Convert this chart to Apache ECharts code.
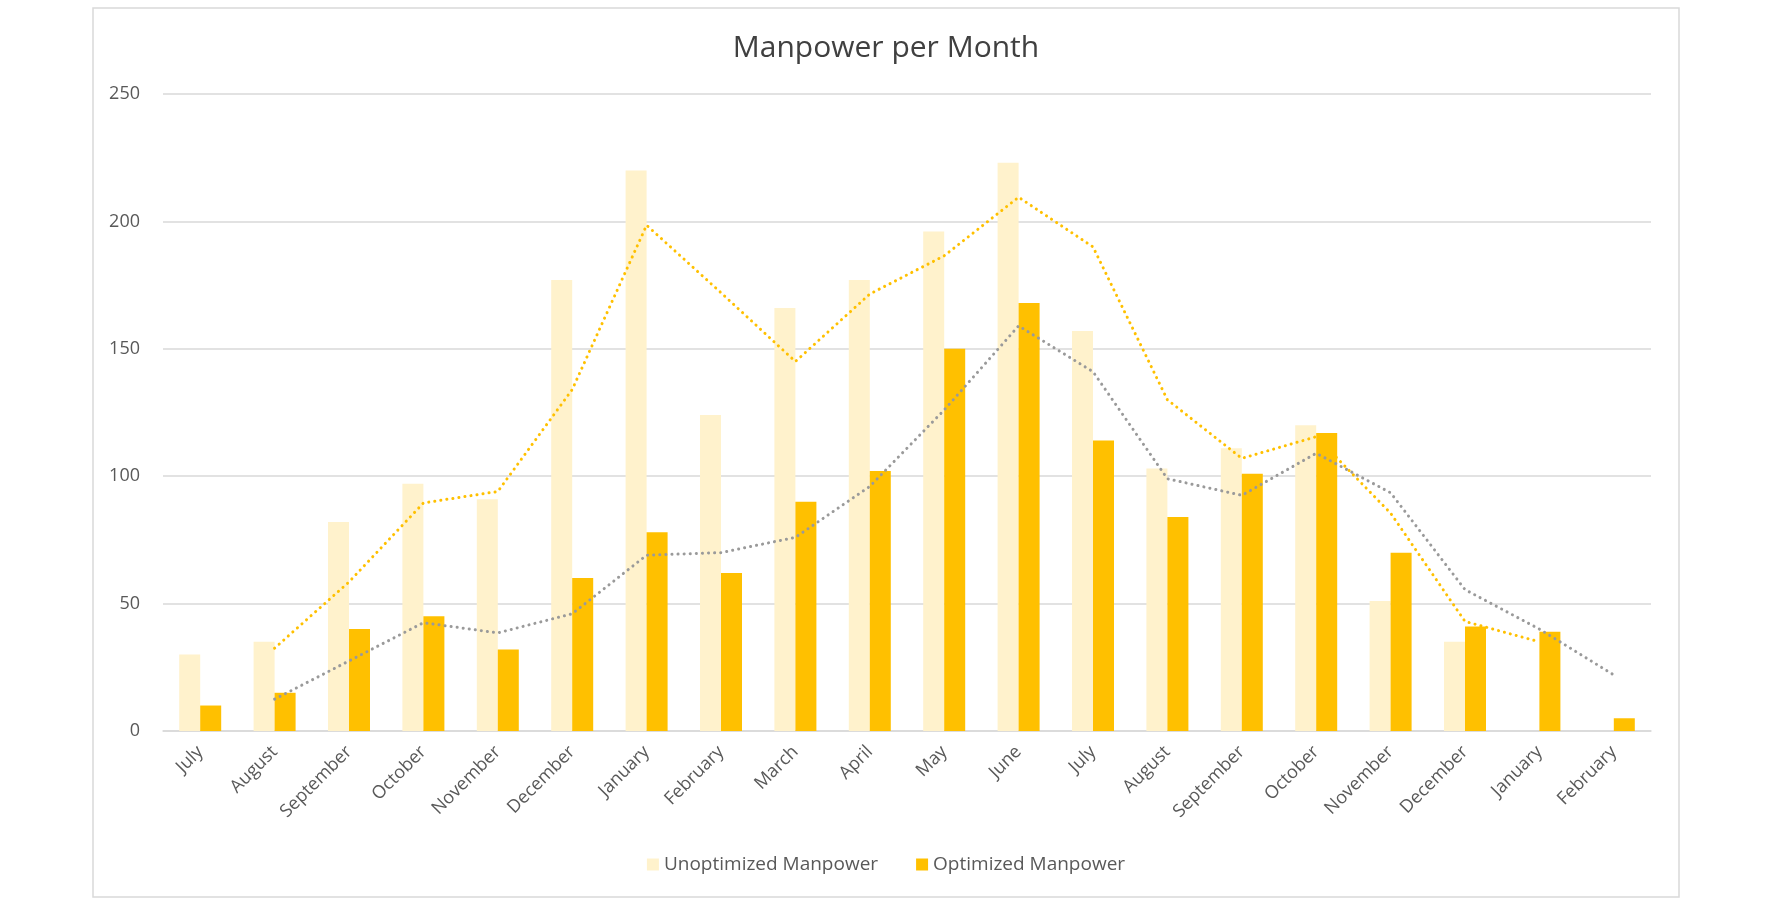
<!DOCTYPE html>
<html>
<head>
<meta charset="utf-8">
<script src="https://cdn.jsdelivr.net/npm/echarts@6/dist/echarts.min.js"></script>
<style>
html,body{margin:0;padding:0;background:#fff;}
#chart{width:1772px;height:900px;}
</style>
</head>
<body>
<div id="chart"></div>
<script>
const categories = ['July','August','September','October','November','December','January','February','March','April','May','June','July','August','September','October','November','December','January','February'];
const unoptimized = [30,35,82,97,91,177,220,124,166,177,196,223,157,103,111,120,51,35,null,null];
const optimized = [10,15,40,45,32,60,78,62,90,102,150,168,114,84,101,117,70,41,39,5];
// trendlines (2-period moving average)
const unoptimizedTrend = [null,32.5,58.5,89.5,94,134,198.5,172,145,171.5,186.5,209.5,190,130,107,115.5,85.5,43,35,null];
const optimizedTrend = [null,12.5,27.5,42.5,38.5,46,69,70,76,96,126,159,141,99,92.5,109,93.5,55.5,40,22];
const yTicks = [0,50,100,150,200,250];

const font = 'Open Sans';
const chart = echarts.init(document.getElementById('chart'));
chart.setOption({
  animation: false,
  backgroundColor: '#ffffff',
  textStyle: {fontFamily: font},
  graphic: [{
    type: 'rect', z: -1, silent: true,
    shape: {x: 93, y: 8, width: 1586, height: 889},
    style: {fill: '#ffffff', stroke: '#D9D9D9', lineWidth: 1.5}
  }],
  title: {
    text: 'Manpower per Month',
    left: 'center', top: 28,
    textStyle: {fontFamily: font, fontSize: 30, fontWeight: 'normal', color: '#404040'}
  },
  legend: {
    data: ['Unoptimized Manpower', 'Optimized Manpower'],
    top: 850, left: 'center',
    itemWidth: 12, itemHeight: 12, itemGap: 38,
    icon: 'rect',
    textStyle: {fontFamily: font, fontSize: 19, color: '#595959'}
  },
  grid: {left: 163, right: 121, top: 94, bottom: 169, containLabel: false},
  xAxis: {
    type: 'category',
    data: categories,
    axisLine: {show: true, lineStyle: {color: '#D9D9D9', width: 1.5}},
    axisTick: {show: false},
    axisLabel: {rotate: 45, margin: 18, interval: 0, fontFamily: font, fontSize: 18, color: '#595959'}
  },
  yAxis: {
    type: 'value',
    min: yTicks[0], max: yTicks[yTicks.length - 1], interval: 50,
    axisLine: {show: false},
    axisTick: {show: false},
    splitLine: {lineStyle: {color: '#D9D9D9', width: 1.5}},
    axisLabel: {margin: 23, fontFamily: font, fontSize: 18, color: '#595959'}
  },
  series: [
    {
      name: 'Unoptimized Manpower', type: 'bar', data: unoptimized,
      barWidth: 21, barGap: '0%',
      itemStyle: {color: '#FFF2CC'}
    },
    {
      name: 'Optimized Manpower', type: 'bar', data: optimized,
      barWidth: 21, barGap: '0%',
      itemStyle: {color: '#FFC000'}
    },
    {
      name: 'Unoptimized trend', type: 'line', data: unoptimizedTrend,
      showSymbol: false, symbol: 'none', connectNulls: false, z: 5,
      lineStyle: {color: '#FFC000', width: 3, type: [0.1, 6], cap: 'round'}
    },
    {
      name: 'Optimized trend', type: 'line', data: optimizedTrend,
      showSymbol: false, symbol: 'none', connectNulls: false, z: 5,
      lineStyle: {color: '#9A9A9A', width: 3, type: [0.1, 6], cap: 'round'}
    }
  ]
});
</script>
</body>
</html>
